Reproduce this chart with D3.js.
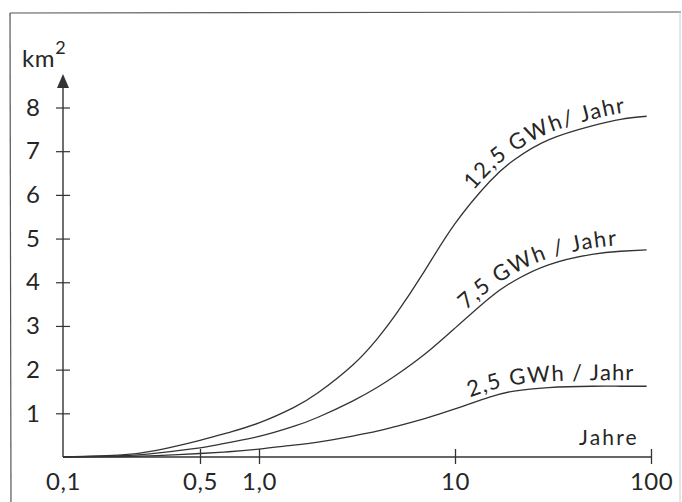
<!DOCTYPE html>
<html><head><meta charset="utf-8">
<script src="https://cdn.jsdelivr.net/npm/d3@7"></script>
<style>
body{margin:0;background:#fff}
svg{display:block}
text{font-family:Lato,'Open Sans',sans-serif;fill:#262626}
</style>
</head><body><svg id="c" width="682" height="502"></svg>
<script>
// ---- data ----
const years   = [0.1, 0.2, 0.3, 0.5, 0.7, 1, 1.5, 2, 3, 4, 5, 7, 10, 15, 20, 30, 50, 70, 95];
const area125 = [0, 0.05, 0.15, 0.38, 0.56, 0.78, 1.13, 1.47, 2.1, 2.7, 3.27, 4.26, 5.34, 6.3, 6.8, 7.26, 7.58, 7.73, 7.8];
const area75  = [0, 0.03, 0.09, 0.21, 0.33, 0.47, 0.70, 0.91, 1.28, 1.59, 1.87, 2.35, 2.95, 3.64, 4.03, 4.40, 4.64, 4.71, 4.74];
const area25  = [0, 0.01, 0.03, 0.08, 0.12, 0.18, 0.27, 0.34, 0.48, 0.59, 0.7, 0.88, 1.1, 1.37, 1.51, 1.59, 1.62, 1.62, 1.62];
const seriesNames  = ["12,5 GWh/ Jahr", "7,5 GWh / Jahr", "2,5 GWh / Jahr"];
const labelStartX  = [478, 470, 472];
const xTickValues  = [0.1, 0.5, 1, 10, 100];
const xTickLabels  = ["0,1", "0,5", "1,0", "10", "100"];
const yTickValues  = [1, 2, 3, 4, 5, 6, 7, 8];
const yUnit = "km";
const xTitle = "Jahre";

const series = [area125, area75, area25];

const svg = d3.select("#c");
const W = 682, H = 502;

// frame
svg.append("line").attr("x1",10).attr("y1",13).attr("x2",681).attr("y2",12).attr("stroke","#555").attr("stroke-width",1.2);
svg.append("line").attr("x1",10).attr("y1",13).attr("x2",11).attr("y2",H).attr("stroke","#555").attr("stroke-width",1.2);
svg.append("line").attr("x1",680).attr("y1",12).attr("x2",680).attr("y2",H).attr("stroke","#ccc").attr("stroke-width",1);

const x = d3.scaleLog().domain([0.1, 100]).range([63, 651]);
const y = d3.scaleLinear().domain([0, 8]).range([457, 107.5]);

const ink = "#333";
const fontTick = 24;

// x axis
const xAxis = d3.axisBottom(x).tickValues(xTickValues)
  .tickFormat((d,i) => xTickLabels[i]).tickSize(0).tickPadding(16);
const gx = svg.append("g").attr("transform", `translate(0,${y(0)})`).call(xAxis);
gx.select(".domain").remove();
gx.selectAll("text").attr("font-size", fontTick).attr("font-family","Lato").attr("fill","#262626").attr("letter-spacing", 0.5);
gx.selectAll(".tick").filter(d => d > 0.1).append("line")
  .attr("y1", -8).attr("y2", 7).attr("stroke", ink).attr("stroke-width", 1.3);
gx.append("line").attr("x1", x(0.1)).attr("x2", x(100)).attr("stroke", ink).attr("stroke-width", 1.4);

// y axis
const yAxis = d3.axisLeft(y).tickValues(yTickValues).tickSize(0).tickPadding(23);
const gy = svg.append("g").attr("transform", `translate(${x(0.1)},0)`).call(yAxis);
gy.select(".domain").remove();
gy.selectAll("text").attr("font-size", fontTick).attr("font-family","Lato").attr("fill","#262626");
gy.selectAll(".tick").append("line").attr("x1", -7).attr("x2", 7).attr("stroke", ink).attr("stroke-width", 1.2);
gy.append("line").attr("y1", y(0)).attr("y2", 86).attr("stroke", ink).attr("stroke-width", 1.4);
gy.append("path").attr("d", "M-6,88 L6,88 L0,74 Z").attr("fill", ink);

// unit label
const ku = svg.append("text").attr("x", 22).attr("y", 67).attr("font-size", 24).attr("letter-spacing", 0.6);
ku.append("tspan").text(yUnit);
ku.append("tspan").attr("dy", -13).attr("font-size", 18).text("2");

svg.append("text").attr("x", 579).attr("y", 445).attr("font-size", 21).attr("letter-spacing", 2.2).text(xTitle);

// curves
const line = d3.line().x(d => x(d[0])).y(d => y(d[1])).curve(d3.curveNatural);
series.forEach((vals, i) => {
  const pts = years.map((yr, j) => [yr, vals[j]]);
  const p = svg.append("path").attr("id", "curve" + i).attr("d", line(pts))
    .attr("fill", "none").attr("stroke", ink).attr("stroke-width", 1.3);
  const node = p.node();
  const total = node.getTotalLength();
  let lo = 0, hi = total;
  for (let k = 0; k < 40; k++) {
    const mid = (lo + hi) / 2;
    if (node.getPointAtLength(mid).x < labelStartX[i]) lo = mid; else hi = mid;
  }
  svg.append("text").attr("font-size", 22).attr("dy", -6).attr("letter-spacing", 1.2)
    .append("textPath").attr("href", "#curve" + i).attr("startOffset", lo)
    .text(seriesNames[i]);
});
</script>
</body></html>
